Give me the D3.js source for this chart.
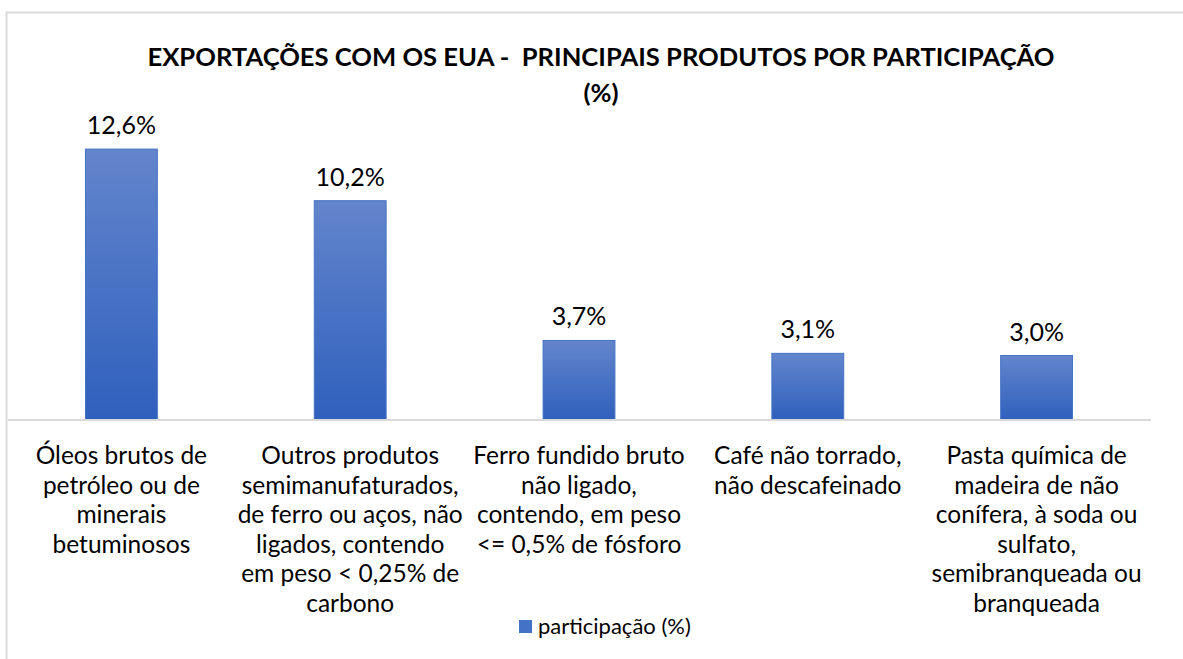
<!DOCTYPE html>
<html>
<head>
<meta charset="utf-8">
<script src="https://cdn.jsdelivr.net/npm/d3@7"></script>
<style>
  body { margin: 0; background: #fff; }
  svg { font-family: Lato, Calibri, sans-serif; }
</style>
</head>
<body>
<svg id="chart"></svg>
<script>
const categories = [
  ['Óleos brutos de', 'petróleo ou de', 'minerais', 'betuminosos'],
  ['Outros produtos', 'semimanufaturados,', 'de ferro ou aços, não', 'ligados, contendo', 'em peso < 0,25% de', 'carbono'],
  ['Ferro fundido bruto', 'não ligado,', 'contendo, em peso', '<= 0,5% de fósforo'],
  ['Café não torrado,', 'não descafeinado'],
  ['Pasta química de', 'madeira de não', 'conífera, à soda ou', 'sulfato,', 'semibranqueada ou', 'branqueada']
];
const values = [12.6, 10.2, 3.7, 3.1, 3.0];
const seriesName = 'participação (%)';
const titleLines = ['EXPORTAÇÕES COM OS EUA -  PRINCIPAIS PRODUTOS POR PARTICIPAÇÃO', '(%)'];

const W = 1183, H = 659;
const svg = d3.select('#chart').attr('width', W).attr('height', H);

// chart frame (only top & left visible in the crop)
svg.append('path').attr('d', 'M6.5,' + H + ' V12.5 H' + W)
  .attr('fill', 'none').attr('stroke', '#d9d9d9').attr('stroke-width', 2);

const defs = svg.append('defs');
const grad = defs.append('linearGradient').attr('id', 'barGrad')
  .attr('x1', 0).attr('y1', 0).attr('x2', 0).attr('y2', 1);
grad.append('stop').attr('offset', '0%').attr('stop-color', '#6385cc');
grad.append('stop').attr('offset', '100%').attr('stop-color', '#2f60bd');

const baseY = 420;
const x = d3.scaleBand().domain(d3.range(values.length)).range([7, 1151]).paddingInner(0.686).paddingOuter(0.343);
const y = d3.scaleLinear().domain([0, 14]).range([baseY, baseY - 14 * 21.5]);

// title
svg.append('g').selectAll('text').data(titleLines).enter().append('text')
  .attr('x', 601).attr('y', (d, i) => 66 + i * 36)
  .attr('text-anchor', 'middle').attr('font-weight', 'bold').attr('font-size', 25.6)
  .style('white-space', 'pre')
  .attr('fill', '#000').text(d => d);

// bars
svg.append('g').selectAll('rect').data(values).enter().append('rect')
  .attr('x', (d, i) => x(i)).attr('width', x.bandwidth())
  .attr('y', d => y(d)).attr('height', d => y(0) - y(d))
  .attr('fill', 'url(#barGrad)').attr('stroke', '#4472c4').attr('stroke-width', 1);

// baseline axis
const axis = svg.append('g').attr('transform', 'translate(0,' + baseY + ')')
  .call(d3.axisBottom(x).tickSize(0).tickFormat(''));
axis.select('.domain').attr('stroke', '#d9d9d9').attr('stroke-width', 2).attr('d', 'M8,0H1151');

// value labels
svg.append('g').selectAll('text').data(values).enter().append('text')
  .attr('x', (d, i) => x(i) + x.bandwidth() / 2).attr('y', d => y(d) - 15)
  .attr('text-anchor', 'middle').attr('font-size', 25).attr('fill', '#000')
  .text(d => d3.format('.1f')(d).replace('.', ',') + '%');

// category labels
const cat = svg.append('g').selectAll('text').data(categories).enter().append('text')
  .attr('text-anchor', 'middle').attr('font-size', 24.5).attr('fill', '#000');
cat.each(function (lines, i) {
  d3.select(this).selectAll('tspan').data(lines).enter().append('tspan')
    .attr('x', x(i) + x.bandwidth() / 2).attr('y', (d, j) => 464 + j * 29.5)
    .text(d => d);
});

// legend
const lg = svg.append('g').attr('transform', 'translate(519,620)');
lg.append('rect').attr('width', 13).attr('height', 13).attr('fill', '#4472c4');
lg.append('text').attr('x', 19).attr('y', 14).attr('font-size', 22).attr('fill', '#000').text(seriesName);
</script>
</body>
</html>
